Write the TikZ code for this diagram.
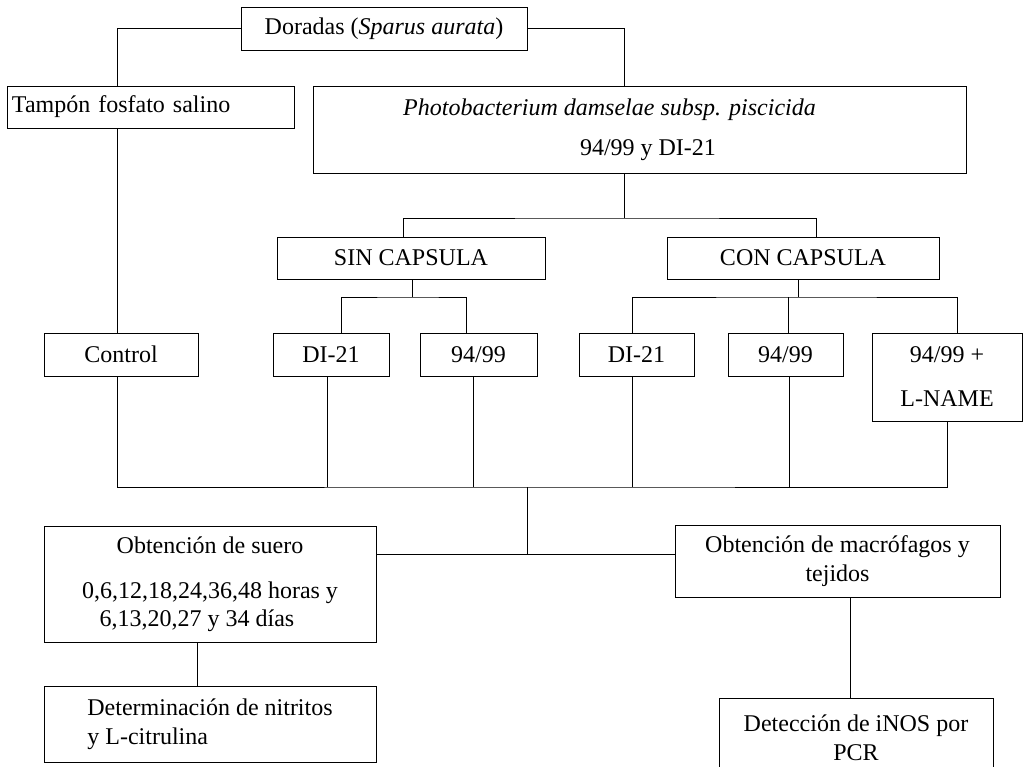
\documentclass[tikz,border=0pt]{standalone}
\usepackage{fontspec}
\setmainfont{Liberation Serif}
\begin{document}
\begin{tikzpicture}[x=1pt,y=-1pt,
  box/.style={draw, line width=0.9pt, inner sep=0pt, align=center, font=\fontsize{24}{28.5}\selectfont},
  conn/.style={line width=0.9pt}]
\useasboundingbox (0,0) rectangle (1032,767);
\clip (0,0) rectangle (1032,767);
% boxes
\node[box, minimum width=286pt, minimum height=43pt] (dor) at (384,28.5) {Doradas (\textit{Sparus aurata})};
\node[box, minimum width=287pt, minimum height=42pt, text width=277pt, align=left] (tam) at (150.5,107) {Tampón fosfato salino};
\node[box, minimum width=653pt, minimum height=87pt] (pho) at (639.5,129.5) {\textit{Photobacterium damselae subsp. piscicida}\kern60pt\\[11.5pt]\kern17pt 94/99 y DI-21};
\node[box, minimum width=268pt, minimum height=42pt] (sin) at (411,258) {SIN CAPSULA};
\node[box, minimum width=272pt, minimum height=42pt] (con) at (803,258) {CON CAPSULA};
\node[box, minimum width=154pt, minimum height=43pt] (ctl) at (121,354.5) {Control};
\node[box, minimum width=116pt, minimum height=43pt] (sd) at (331,354.5) {DI-21};
\node[box, minimum width=117pt, minimum height=43pt] (s9) at (478.5,354.5) {94/99};
\node[box, minimum width=115pt, minimum height=43pt] (cd) at (636.5,354.5) {DI-21};
\node[box, minimum width=115pt, minimum height=43pt] (c9) at (785.5,354.5) {94/99};
\node[box, minimum width=150pt, minimum height=88pt] (ln) at (947,377) {94/99 +\\[15.5pt]L-NAME};
\node[box, minimum width=332pt, minimum height=116pt] (suero) at (210,584) {Obtención de suero\\[16.5pt]0,6,12,18,24,36,48 horas y\\6,13,20,27 y 34 días\kern26pt};
\node[box, minimum width=325pt, minimum height=72pt] (mac) at (837.5,561) {Obtención de macrófagos y\\tejidos};
\node[box, minimum width=332pt, minimum height=76pt, align=left] (nit) at (210,724) {Determinación de nitritos\\y L-citrulina};
\node[box, minimum width=274pt, minimum height=80pt] (inos) at (856,738) {Detección de iNOS por\\PCR};
% coordinates
\coordinate (xl) at (117,0);
\coordinate (xr) at (624,0);
\coordinate (j1) at (624,218);
\coordinate (sx) at (403,0);
\coordinate (cx) at (816,0);
\coordinate (j2) at (412,297);
\coordinate (a) at (341,0);
\coordinate (b) at (466,0);
\coordinate (j3) at (798,297);
\coordinate (c) at (632,0);
\coordinate (d) at (788,0);
\coordinate (e) at (957,0);
\coordinate (bus) at (527,487);
\coordinate (p1) at (327,487);
\coordinate (p2) at (473,487);
\coordinate (p3) at (632,487);
\coordinate (p4) at (789,487);
\coordinate (h) at (527,554);
\coordinate (q) at (197,0);
\coordinate (r) at (850,0);
% connectors
\draw[conn] (dor.west) -| (tam.north -| xl);
\draw[conn] (dor.east) -| (pho.north -| xr);
\draw[conn] (tam.south -| xl) -- (ctl.north -| xl);
\draw[conn] (pho.south -| j1) -- (j1);
\draw[conn] (sin.north -| sx) |- (j1) -| (con.north -| cx);
\draw[conn] (sin.south -| j2) -- (j2);
\draw[conn] (sd.north -| a) |- (j2) -| (s9.north -| b);
\draw[conn] (con.south -| j3) -- (j3);
\draw[conn] (cd.north -| c) |- (j3) -| (ln.north -| e);
\draw[conn] (c9.north -| d) -- (d |- j3);
\draw[conn] (ctl.south -| xl) |- (bus) -| (ln.south);
\draw[conn] (sd.south -| p1) -- (p1);
\draw[conn] (s9.south -| p2) -- (p2);
\draw[conn] (cd.south -| p3) -- (p3);
\draw[conn] (c9.south -| p4) -- (p4);
\draw[conn] (bus) -- (h);
\draw[conn] (suero.east |- h) -- (mac.west |- h);
\draw[conn] (suero.south -| q) -- (nit.north -| q);
\draw[conn] (mac.south -| r) -- (inos.north -| r);
\end{tikzpicture}
\end{document}
